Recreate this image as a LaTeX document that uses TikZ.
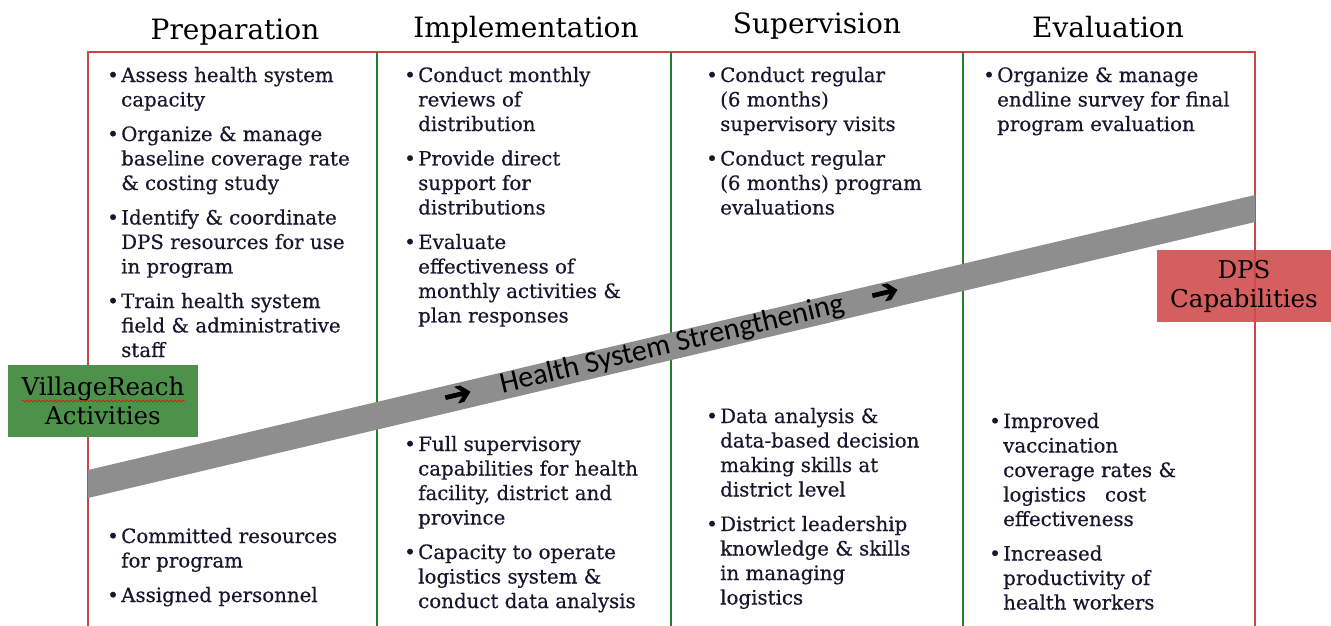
\documentclass[tikz,border=0pt]{standalone}
\usepackage{fontspec}
\setmainfont{DejaVu Serif}
\newfontfamily\bodyfont{DejaVu Serif}[FakeBold=0.4]
\newfontfamily\bandfont{Carlito}
\newfontfamily\symfont{DejaVu Sans}[FakeBold=2]
\usetikzlibrary{decorations.pathmorphing}

\definecolor{framered}{RGB}{205,70,70}
\definecolor{linegreen}{RGB}{40,125,40}
\definecolor{boxgreen}{RGB}{78,145,74}
\definecolor{boxred}{RGB}{208,76,76}
\definecolor{bandgray}{RGB}{142,142,142}
\definecolor{txt}{RGB}{22,22,44}

\newcommand{\blt}{\textbullet}
\newcommand{\lst}[1]{\begin{tabular}[t]{@{}p{14pt}@{}l@{}}#1\end{tabular}}

\tikzset{
  head/.style={font=\fontsize{28}{32}\selectfont},
  blk/.style={anchor=base west, inner sep=0pt, text=txt, font=\bodyfont\fontsize{19.8}{24.5}\selectfont},
  tag/.style={minimum width=190pt, minimum height=72pt, inner sep=0pt, align=center, font=\fontsize{24.5}{29}\selectfont},
  arr/.style={font=\symfont\fontsize{34}{34}\selectfont, rotate=13.3, inner sep=0pt},
}

\begin{document}
\begin{tikzpicture}[x=1pt,y=-1pt]
\useasboundingbox (0,0) rectangle (1331,626);

% frame and column rules
\draw[framered,line width=1.8pt] (88,626) -- (88,52) -- (1255,52) -- (1255,626);
\foreach \x in {377,671,963}{
	\draw[linegreen,line width=2pt] (\x,52) -- (\x,626);
	}

% band
\fill[bandgray] (88,470) -- (1255,195) -- (1255,222) -- (88,498) -- cycle;
\node[rotate=13.3, font=\bandfont\fontsize{30}{30}\selectfont] (hss) at (672,345) {Health System Strengthening};
\node[arr] (arr1) at (458,396) {➔};
\node[arr] (arr2) at (885,294) {➔};

% headers
\node[head] (prep) at (235,32) {Preparation};
\node[head] (impl) at (526,30) {Implementation};
\node[head] (sup) at (817,26) {Supervision};
\node[head] (eval) at (1108,27) {Evaluation};

% activities
\node[blk] (preptop) at (107,82) {\lst{
\blt & Assess health system\\ & capacity\\[10pt]
\blt & Organize \& manage\\ & baseline coverage rate\\ & \& costing study\\[10pt]
\blt & Identify \& coordinate\\ & DPS resources for use\\ & in program\\[10pt]
\blt & Train health system\\ & field \& administrative\\ & staff}};
\node[blk] (impltop) at (404,82) {\lst{
\blt & Conduct monthly\\ & reviews of\\ & distribution\\[10pt]
\blt & Provide direct\\ & support for\\ & distributions\\[10pt]
\blt & Evaluate\\ & effectiveness of\\ & monthly activities \&\\ & plan responses}};
\node[blk] (suptop) at (706,82) {\lst{
\blt & Conduct regular\\ & (6 months)\\ & supervisory visits\\[10pt]
\blt & Conduct regular\\ & (6 months) program\\ & evaluations}};
\node[blk] (evaltop) at (983,82) {\lst{
\blt & Organize \& manage\\ & endline survey for final\\ & program evaluation}};

% capabilities
\node[blk] (prepbot) at (107,543) {\lst{
\blt & Committed resources\\ & for program\\[10pt]
\blt & Assigned personnel}};
\node[blk] (implbot) at (404,451) {\lst{
\blt & Full supervisory\\ & capabilities for health\\ & facility, district and\\ & province\\[10pt]
\blt & Capacity to operate\\ & logistics system \&\\ & conduct data analysis}};
\node[blk] (supbot) at (706,423) {\lst{
\blt & Data analysis \&\\ & data-based decision\\ & making skills at\\ & district level\\[10pt]
\blt & District leadership\\ & knowledge \& skills\\ & in managing\\ & logistics}};
\node[blk] (evalbot) at (989,428) {\lst{
\blt & Improved\\ & vaccination\\ & coverage rates \&\\ & logistics~~ cost\\ & effectiveness\\[10pt]
\blt & Increased\\ & productivity of\\ & health workers}};

% side labels
\node[tag, fill=boxgreen] (vr) at (103,401) {VillageReach\\Activities};
\draw[red, decorate, decoration={snake, amplitude=1pt, segment length=4pt}] (22,401) -- (185,401);
\node[tag, fill=boxred, fill opacity=0.9, text opacity=1, minimum width=174pt] (dps) at (1244,286) {DPS\\Capabilities};
\end{tikzpicture}
\end{document}
